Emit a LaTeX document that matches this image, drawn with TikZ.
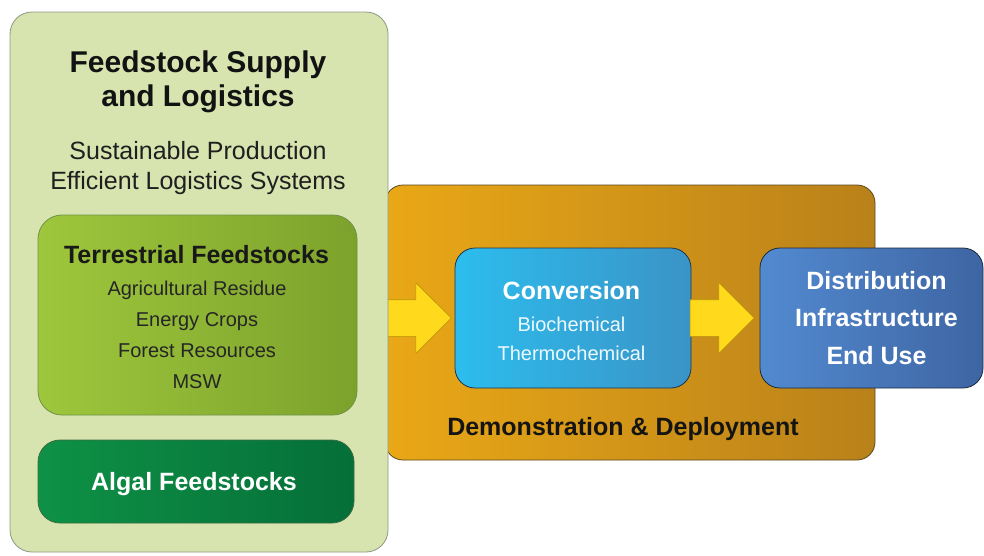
\documentclass[tikz,border=0pt]{standalone}
\usepackage{fontspec}
\setmainfont{Liberation Sans}
\usepackage{tikz}
\usetikzlibrary{shapes.arrows}

\definecolor{supplyfill}{HTML}{D7E4AF}
\definecolor{supplyedge}{HTML}{8E9882}
\definecolor{demoleft}{HTML}{EAA816}
\definecolor{demoright}{HTML}{B9811A}
\definecolor{demoedge}{HTML}{5A4820}
\definecolor{terrleft}{HTML}{9EC73C}
\definecolor{terrright}{HTML}{7DA22C}
\definecolor{terredge}{HTML}{71904A}
\definecolor{algalleft}{HTML}{0E9146}
\definecolor{algalright}{HTML}{056F38}
\definecolor{algaledge}{HTML}{3D6B42}
\definecolor{convleft}{HTML}{2CBDEE}
\definecolor{convright}{HTML}{3B93C6}
\definecolor{convedge}{HTML}{1E3448}
\definecolor{distleft}{HTML}{528AD0}
\definecolor{distright}{HTML}{3E65A3}
\definecolor{distedge}{HTML}{1C283C}
\definecolor{arrowyellow}{HTML}{FFD91C}
\definecolor{arrowedge}{HTML}{B8960A}

\begin{document}
\begin{tikzpicture}[x=1pt, y=-1pt, line join=round]
	\tikzstyle{box}=[rounded corners=20pt, draw, line width=0.8pt, inner sep=0pt]
	\tikzstyle{title label}=[anchor=base, inner sep=0pt, text=black!93, font=\fontsize{30}{36}\selectfont\bfseries]
	\tikzstyle{big label}=[anchor=base, inner sep=0pt, font=\fontsize{25}{30}\selectfont\bfseries]
	\tikzstyle{sub label}=[anchor=base, inner sep=0pt, text=black!88, font=\fontsize{25}{30}\selectfont]
	\tikzstyle{small label}=[anchor=base, inner sep=0pt, font=\fontsize{20}{24}\selectfont]
	\tikzstyle{yellow arrow}=[single arrow, single arrow head extend=17pt, inner sep=0pt, inner ysep=18pt, fill=arrowyellow, draw=arrowedge, line width=0.6pt]
	
	\useasboundingbox (0,0) rectangle (984,555);
	
	% Draw the demonstration band
	\node[box, rounded corners=18pt, minimum width=490pt, minimum height=275pt, left color=demoleft, right color=demoright, draw=demoedge] (demo) at (630,322.5) {};
	
	% Draw the conversion and distribution boxes
	\node[box, minimum width=236pt, minimum height=140pt, left color=convleft, right color=convright, draw=convedge] (conv) at (573,318) {};
	\node[box, minimum width=223pt, minimum height=140pt, left color=distleft, right color=distright, draw=distedge] (dist) at (871.5,318) {};
	
	% Draw the arrows
	\node[yellow arrow, anchor=tip, minimum height=72pt] (A-1) at ([xshift=-3pt]conv.west) {};
	\node[yellow arrow, anchor=tip, minimum height=64pt] (A-2) at ([xshift=-5pt]dist.west) {};
	
	% Draw the feedstock panel
	\node[box, rounded corners=22pt, minimum width=378pt, minimum height=540pt, fill=supplyfill, draw=supplyedge] (supply) at (199,282) {};
	\node[box, rounded corners=24pt, minimum width=319pt, minimum height=200pt, left color=terrleft, right color=terrright, draw=terredge] (terr) at (197.5,315) {};
	\node[box, rounded corners=22pt, minimum width=316pt, minimum height=83pt, left color=algalleft, right color=algalright, draw=algaledge] (algal) at (196,481.5) {};
	
	% Annotate the feedstock panel
	\node[title label] (T-1) at (198,72) {Feedstock Supply};
	\node[title label] (T-2) at (198,106) {and Logistics};
	\foreach \name / \y in {Sustainable Production/159, Efficient Logistics Systems/189}
	\node[sub label] (S-\y) at (198,\y) {\name};
	
	\node[big label, text=black!90] (hl) at (196.5,263) {Terrestrial Feedstocks};
	\foreach \name / \y in {Agricultural Residue/295, Energy Crops/326, Forest Resources/357, MSW/388}
	\node[small label, text=black!85] (F-\y) at (197,\y) {\name};
	
	\node[big label, text=white] (al) at (194,490) {Algal Feedstocks};
	
	% Annotate conversion and distribution
	\node[big label, text=white] (cl) at (571.5,299) {Conversion};
	\foreach \name / \y in {Biochemical/331, Thermochemical/360}
	\node[small label, text=white!92!convleft] (C-\y) at (571.5,\y) {\name};
	
	\foreach \name / \y in {Distribution/289, Infrastructure/326, End Use/364}
	\node[big label, text=white] (D-\y) at (876.5,\y) {\name};
	
	\node[big label, text=black!92] (dl) at (623,435) {Demonstration \& Deployment};
	
\end{tikzpicture}
\end{document}
